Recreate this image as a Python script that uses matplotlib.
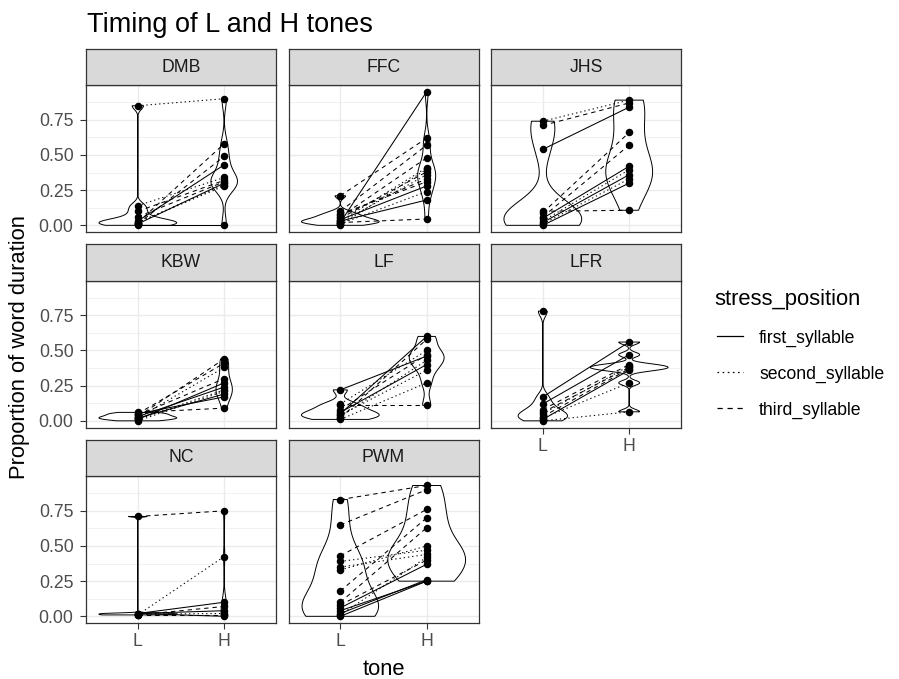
import numpy as np
import matplotlib.pyplot as plt
from matplotlib.lines import Line2D

plt.rcParams['font.family'] = ['Liberation Sans', 'DejaVu Sans']

# === Datos: proporción de la duración de la palabra (L y H por palabra) ===
speakers = ["DMB", "FFC", "JHS", "KBW", "LF", "LFR", "NC", "PWM"]
tones = ["L", "H"]
stress_levels = ["first_syllable", "second_syllable", "third_syllable"]

dmb_L = [0.85, 0.02, 0.01, 0.03, 0.14, 0.10, 0.01, 0.02, 0.00, 0.02, 0.06]
dmb_H = [0.90, 0.58, 0.49, 0.43, 0.34, 0.32, 0.30, 0.28, 0.00, 0.29, 0.31]
dmb_stress = [2, 3, 3, 1, 2, 3, 1, 2, 1, 2, 3]

ffc_L = [0.02, 0.21, 0.10, 0.06, 0.03, 0.05, 0.02, 0.08, 0.04, 0.01, 0.03, 0.07, 0.02, 0.00]
ffc_H = [0.95, 0.62, 0.57, 0.48, 0.41, 0.38, 0.36, 0.31, 0.28, 0.24, 0.18, 0.33, 0.045, 0.40]
ffc_stress = [1, 3, 3, 3, 2, 3, 2, 3, 1, 2, 1, 3, 3, 2]

jhs_L = [0.74, 0.71, 0.54, 0.09, 0.06, 0.05, 0.03, 0.02, 0.01, 0.00, 0.10]
jhs_H = [0.89, 0.87, 0.84, 0.66, 0.57, 0.42, 0.395, 0.36, 0.33, 0.30, 0.107]
jhs_stress = [2, 3, 1, 3, 3, 1, 2, 1, 2, 1, 3]

kbw_L = [0.03, 0.05, 0.02, 0.04, 0.01, 0.03, 0.00, 0.02, 0.05, 0.06, 0.01]
kbw_H = [0.44, 0.41, 0.38, 0.30, 0.27, 0.24, 0.21, 0.19, 0.17, 0.09, 0.22]
kbw_stress = [3, 3, 2, 3, 1, 1, 2, 1, 1, 3, 2]

lf_L = [0.22, 0.05, 0.02, 0.12, 0.08, 0.03, 0.06, 0.01, 0.11, 0.04]
lf_H = [0.46, 0.60, 0.58, 0.50, 0.47, 0.43, 0.40, 0.27, 0.11, 0.36]
lf_stress = [1, 1, 3, 2, 3, 2, 1, 2, 3, 2]

lfr_L = [0.78, 0.17, 0.12, 0.08, 0.05, 0.03, 0.02, 0.01, 0.00, 0.06]
lfr_H = [np.nan, 0.56, 0.47, 0.40, 0.39, 0.37, 0.27, 0.36, 0.064, 0.38]
lfr_stress = [2, 1, 1, 3, 2, 3, 2, 1, 2, 3]

nc_L = [0.71, 0.01, 0.02, 0.01, 0.02, 0.015, 0.01, 0.02]
nc_H = [0.75, 0.425, 0.10, 0.07, 0.04, 0.02, 0.01, 0.00]
nc_stress = [3, 2, 1, 3, 1, 2, 3, 1]

pwm_L = [0.83, 0.65, 0.43, 0.39, 0.35, 0.33, 0.18, 0.10, 0.08, 0.06, 0.04, 0.02, 0.01, 0.00]
pwm_H = [0.93, 0.90, 0.76, 0.47, 0.44, 0.50, 0.70, 0.63, 0.40, 0.37, 0.25, 0.26, 0.42, 0.25]
pwm_stress = [3, 3, 3, 2, 2, 2, 3, 3, 3, 1, 1, 1, 2, 1]

datos = {
    "DMB": (dmb_L, dmb_H, dmb_stress),
    "FFC": (ffc_L, ffc_H, ffc_stress),
    "JHS": (jhs_L, jhs_H, jhs_stress),
    "KBW": (kbw_L, kbw_H, kbw_stress),
    "LF": (lf_L, lf_H, lf_stress),
    "LFR": (lfr_L, lfr_H, lfr_stress),
    "NC": (nc_L, nc_H, nc_stress),
    "PWM": (pwm_L, pwm_H, pwm_stress),
}

estilos = {1: '-', 2: (0, (1.3, 2.8)), 3: (0, (4.2, 3.8))}


# === KDE como geom_violin (bw nrd0, trim) ===
def bw_nrd0(x):
    sd = np.std(x, ddof=1)
    q75, q25 = np.percentile(x, [75, 25])
    lo = min(sd, (q75 - q25) / 1.34)
    if lo == 0:
        lo = sd or abs(x[0]) or 1
    return 0.9 * lo * len(x) ** -0.2


def densidad(x):
    x = np.asarray(x, dtype=float)
    x = x[~np.isnan(x)]
    yy = np.linspace(x.min(), x.max(), 512)
    bw = bw_nrd0(x)
    d = np.exp(-0.5 * ((yy[:, None] - x[None, :]) / bw) ** 2).sum(1)
    d = d / (len(x) * bw * np.sqrt(2 * np.pi))
    return yy, d


# === Layout en pixeles ===
W, H = 899, 679
fig = plt.figure(figsize=(W / 100, H / 100), dpi=100)


def caja(l, t, w, h):
    return [l / W, 1 - (t + h) / H, w / W, h / H]


col_left = [86, 288.5, 491]
strip_top = [49, 244.5, 440]
pw, sh, ph = 190, 36, 147

todos = np.concatenate([np.asarray(v[0] + list(v[1]), dtype=float) for v in datos.values()])
ymin, ymax = np.nanmin(todos), np.nanmax(todos)
pad = 0.05 * (ymax - ymin)

for i, spk in enumerate(speakers):
    r, c = divmod(i, 3)
    L, Hv, st = datos[spk]
    ax = fig.add_axes(caja(col_left[c], strip_top[r] + sh, pw, ph))
    ax.set_xlim(0.4, 2.6)
    ax.set_ylim(ymin - pad, ymax + pad)
    ax.set_xticks([1, 2])
    ax.set_xticklabels(tones)
    ax.set_yticks([0, 0.25, 0.5, 0.75])
    ax.set_yticklabels(["0.00", "0.25", "0.50", "0.75"])
    ax.set_yticks([0.125, 0.375, 0.625, 0.875], minor=True)
    ax.grid(True, which='major', color='#EBEBEB', lw=1.0)
    ax.grid(True, which='minor', axis='y', color='#EBEBEB', lw=0.5)
    ax.set_axisbelow(True)
    for s in ax.spines.values():
        s.set_color('#333333')
        s.set_linewidth(0.9)
    ax.tick_params(which='major', length=4.5, width=0.8, color='#333333',
                   labelcolor='#4D4D4D', labelsize=12.7)
    ax.tick_params(axis='x', pad=3)
    ax.tick_params(axis='y', pad=4.5)
    ax.tick_params(which='minor', length=0)
    if c != 0:
        ax.tick_params(axis='y', left=False, labelleft=False)
    if not (r == 2 or spk == "LFR"):
        ax.tick_params(axis='x', bottom=False, labelbottom=False)

    # violines
    dens = [densidad(L), densidad(Hv)]
    dmax = max(d.max() for _, d in dens)
    for pos, (yy, d) in zip([1, 2], dens):
        hw = 0.45 * d / dmax
        ax.fill(np.r_[pos - hw, (pos + hw)[::-1]], np.r_[yy, yy[::-1]],
                facecolor='white', edgecolor='black', lw=0.7, zorder=2)

    # lineas por palabra
    for l, h, s in zip(L, Hv, st):
        ax.plot([1, 2], [l, h], color='black', lw=0.75, ls=estilos[s], zorder=3)
    ax.plot(np.ones(len(L)), L, 'o', color='black', ms=4.4, zorder=4)
    ax.plot(np.full(len(Hv), 2), Hv, 'o', color='black', ms=4.4, zorder=4)

    # strip
    sax = fig.add_axes(caja(col_left[c], strip_top[r], pw, sh))
    sax.set_facecolor('#D9D9D9')
    sax.set_xticks([])
    sax.set_yticks([])
    for s in sax.spines.values():
        s.set_color('#333333')
        s.set_linewidth(0.9)
    sax.text(0.5, 0.5, spk, ha='center', va='center', fontsize=12.7,
             color='#1A1A1A', transform=sax.transAxes)

# === Titulos ===
fig.text(87 / W, 1 - 31.5 / H, "Timing of L and H tones", fontsize=19.5,
         va='baseline', ha='left')
fig.text(20 / W, 1 - 347 / H, "Proportion of word duration", fontsize=15.8,
         rotation=90, va='center', ha='center')
fig.text(383.5 / W, 1 - 675 / H, "tone", fontsize=15.8, va='baseline', ha='center')

# === Leyenda ===
fig.text(714 / W, 1 - 305 / H, "stress_position", fontsize=15.8, va='baseline')
for k, (nombre, yk) in enumerate(zip(stress_levels, [343, 379, 415])):
    fig.add_artist(Line2D([717 / W, 743 / W], [1 - (yk - 7) / H, 1 - (yk - 7) / H],
                          color='black', lw=0.9, ls=estilos[k + 1],
                          transform=fig.transFigure))
    fig.text(759 / W, 1 - yk / H, nombre, fontsize=12.7, va='baseline')

fig.savefig("out.png", dpi=100)
